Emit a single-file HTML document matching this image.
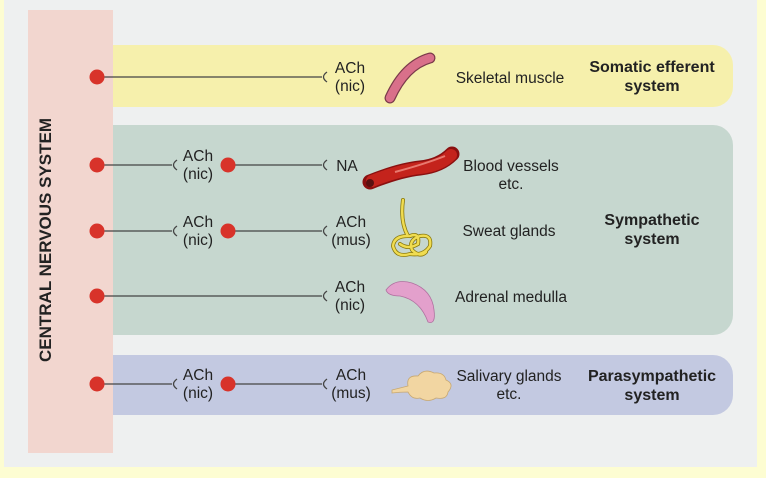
<!DOCTYPE html>
<html><head><meta charset="utf-8"><style>
html,body{margin:0;padding:0;background:#fdfdd2;}
svg{display:block;font-family:"Liberation Sans",Arial,sans-serif;}
</style></head><body>
<svg width="766" height="478" viewBox="0 0 766 478" xmlns="http://www.w3.org/2000/svg">
<rect x="0" y="0" width="766" height="478" fill="#fdfdd2"/>
<rect x="4" y="0" width="753" height="467" fill="#eef0f0"/>
<path d="M113 45 H713 a20 20 0 0 1 20 20 V87 a20 20 0 0 1 -20 20 H113 Z" fill="#f6f0ac"/>
<path d="M113 125 H713 a20 20 0 0 1 20 20 V315 a20 20 0 0 1 -20 20 H113 Z" fill="#c6d7cf"/>
<path d="M113 355 H713 a20 20 0 0 1 20 20 V395 a20 20 0 0 1 -20 20 H113 Z" fill="#c3c9e1"/>
<rect x="28" y="10" width="85" height="443" fill="#f2d6cf"/>
<text transform="translate(51,240) rotate(-90)" text-anchor="middle" font-size="17" font-weight="bold" fill="#222">CENTRAL NERVOUS SYSTEM</text>
<g stroke="#444" stroke-width="1.3" fill="none">
<line x1="97" y1="77" x2="322" y2="77"/><path d="M327 72 Q320 77 327 82"/>
<line x1="97" y1="165" x2="172" y2="165"/><path d="M177 160 Q170 165 177 170"/>
<line x1="227" y1="165" x2="322" y2="165"/><path d="M327 160 Q320 165 327 170"/>
<line x1="97" y1="231" x2="172" y2="231"/><path d="M177 226 Q170 231 177 236"/>
<line x1="227" y1="231" x2="322" y2="231"/><path d="M327 226 Q320 231 327 236"/>
<line x1="97" y1="296" x2="322" y2="296"/><path d="M327 291 Q320 296 327 301"/>
<line x1="97" y1="384" x2="172" y2="384"/><path d="M177 379 Q170 384 177 389"/>
<line x1="227" y1="384" x2="322" y2="384"/><path d="M327 379 Q320 384 327 389"/>
</g>
<g fill="#d8332a">
<circle cx="97" cy="77" r="7.5"/><circle cx="97" cy="165" r="7.5"/><circle cx="228" cy="165" r="7.5"/>
<circle cx="97" cy="231" r="7.5"/><circle cx="228" cy="231" r="7.5"/><circle cx="97" cy="296" r="7.5"/>
<circle cx="97" cy="384" r="7.5"/><circle cx="228" cy="384" r="7.5"/>
</g>
<g font-size="15.5" fill="#222" text-anchor="middle">
<text x="350" y="73">ACh</text><text x="350" y="91">(nic)</text>
<text x="198" y="161">ACh</text><text x="198" y="179">(nic)</text>
<text x="347" y="171">NA</text>
<text x="198" y="227">ACh</text><text x="198" y="245">(nic)</text>
<text x="351" y="227">ACh</text><text x="351" y="245">(mus)</text>
<text x="350" y="292">ACh</text><text x="350" y="310">(nic)</text>
<text x="198" y="380">ACh</text><text x="198" y="398">(nic)</text>
<text x="351" y="380">ACh</text><text x="351" y="398">(mus)</text>
<text x="510" y="83">Skeletal muscle</text>
<text x="511" y="171">Blood vessels</text><text x="511" y="189">etc.</text>
<text x="509" y="236">Sweat glands</text>
<text x="511" y="302">Adrenal medulla</text>
<text x="509" y="381">Salivary glands</text><text x="509" y="399">etc.</text>
</g>
<g font-size="16" font-weight="bold" fill="#222" text-anchor="middle">
<text x="652" y="72">Somatic efferent</text><text x="652" y="91">system</text>
<text x="652" y="225">Sympathetic</text><text x="652" y="244">system</text>
<text x="652" y="381">Parasympathetic</text><text x="652" y="400">system</text>
</g>
<path d="M390 98 Q405 65 430 58" stroke="#7a3a4a" stroke-width="11" stroke-linecap="round" fill="none"/>
<path d="M390 98 Q405 65 430 58" stroke="#d9708a" stroke-width="8.5" stroke-linecap="round" fill="none"/>
<path d="M370 182 Q400 170 420 168 Q440 166 452 154" stroke="#8a1010" stroke-width="15" stroke-linecap="round" fill="none"/>
<path d="M372 181 Q400 170 420 168 Q440 166 451 155" stroke="#c4231c" stroke-width="12" stroke-linecap="round" fill="none"/>
<path d="M395 172 Q425 164 445 156" stroke="#e87a70" stroke-width="2" fill="none"/>
<circle cx="370" cy="183" r="4" fill="#5a1010"/>
<g fill="none" stroke-linecap="round">
<path id="sg" d="M403 200 Q400 222 408 236 Q394 236 393 246 Q396 258 410 254 Q424 256 430 246 Q432 234 420 236 Q408 240 412 250 Q420 258 426 252 M400 244 Q408 250 418 244 Q420 232 410 236" stroke="#8a7a10" stroke-width="4"/>
<path d="M403 200 Q400 222 408 236 Q394 236 393 246 Q396 258 410 254 Q424 256 430 246 Q432 234 420 236 Q408 240 412 250 Q420 258 426 252 M400 244 Q408 250 418 244 Q420 232 410 236" stroke="#f0dc50" stroke-width="2.4"/>
</g>
<path d="M386 290 Q395 278 412 283 Q432 290 434 310 Q436 325 428 322 Q420 300 400 296 Q388 296 386 290 Z" fill="#e3a0cc" stroke="#b070a0" stroke-width="0.8"/>
<path d="M392 390 L408 386 Q406 375 418 376 Q424 368 434 373 Q444 372 446 380 Q455 384 448 392 Q447 400 436 398 Q428 403 420 398 Q412 400 408 392 Q400 392 392 393 Z" fill="#f2d6a2" stroke="#c8a870" stroke-width="0.8"/>
</svg>
</body></html>
